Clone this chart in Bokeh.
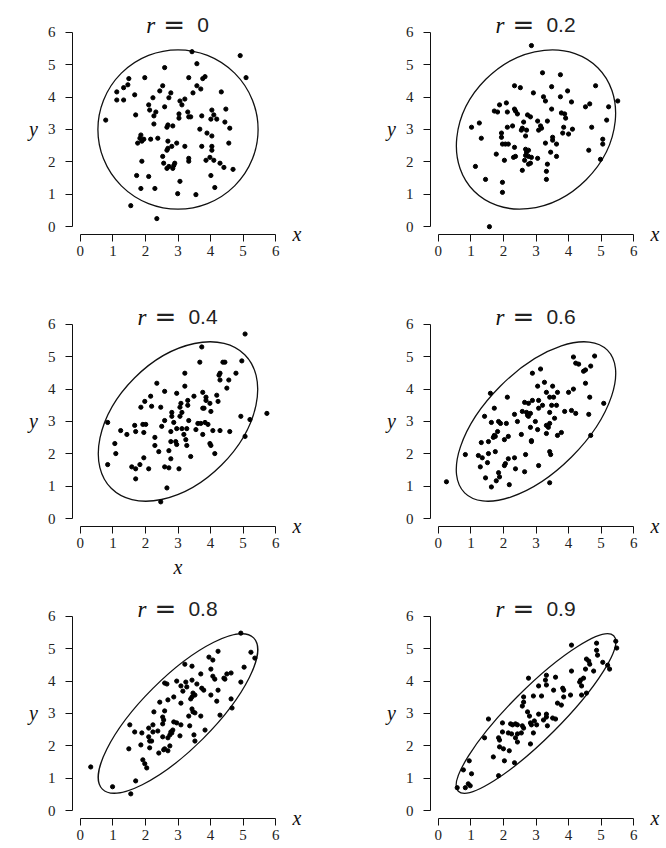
from bokeh.plotting import figure
from bokeh.models import Label, FixedTicker, LinearAxis
from bokeh.layouts import gridplot
from bokeh.embed import file_html
from bokeh.resources import INLINE

# ---------------- data ----------------
r_labels = ["0", "0.2", "0.4", "0.6", "0.8", "0.9"]
tick_values = [0, 1, 2, 3, 4, 5, 6]

# 95% ellipses: centre, full major / minor axis, angle (deg)
ell_cx = [3.0, 3.0, 3.0, 3.0, 3.0, 3.0]
ell_cy = [3.0, 3.0, 3.0, 3.0, 3.0, 3.0]
ell_w = [4.92, 5.37, 5.80, 6.20, 6.57, 6.75]
ell_h = [4.92, 4.38, 3.80, 3.10, 2.19, 1.55]
ell_angle = [0, 45, 45, 45, 45, 45]

x_r0 = [3.43, 4.91, 3.58, 2.59, 5.09, 1.49, 1.98, 3.33, 3.83, 3.76, 1.33, 1.46, 1.12, 2.53, 2.44, 2.78, 3.58, 3.70, 3.46, 4.33,
        1.67, 1.12, 1.33, 2.23, 2.72, 3.21, 3.06, 3.12, 2.10, 2.13, 2.32, 2.59, 4.04, 4.47, 1.70, 2.26, 3.03, 3.30, 3.03, 3.33,
        3.39, 3.73, 4.01, 4.10, 4.19, 4.44, 0.78, 2.26, 2.69, 2.66, 2.84, 3.67, 4.59, 3.89, 1.86, 1.83, 1.95, 1.89, 1.76, 2.16,
        2.38, 4.04, 2.69, 2.96, 2.81, 2.69, 2.66, 3.21, 3.73, 4.04, 4.04, 4.56, 2.53, 3.33, 3.33, 3.98, 3.86, 4.10, 1.89, 2.56,
        2.90, 2.87, 2.72, 2.66, 2.84, 4.29, 4.41, 4.69, 1.73, 2.10, 4.01, 3.06, 1.86, 2.29, 4.13, 2.99, 3.55, 1.55, 2.35]
y_r0 = [5.40, 5.28, 5.03, 4.91, 4.60, 4.57, 4.60, 4.60, 4.63, 4.57, 4.29, 4.38, 4.16, 4.35, 4.19, 4.13, 4.35, 4.25, 4.13, 4.16,
        4.07, 3.91, 3.91, 3.98, 3.98, 3.94, 3.88, 3.76, 3.76, 3.60, 3.54, 3.70, 3.60, 3.63, 3.45, 3.42, 3.48, 3.54, 3.35, 3.39,
        3.39, 3.42, 3.32, 3.45, 3.32, 3.23, 3.29, 3.17, 3.14, 3.07, 3.11, 3.01, 3.04, 2.89, 2.83, 2.73, 2.70, 2.64, 2.58, 2.70,
        2.73, 2.80, 2.64, 2.58, 2.48, 2.42, 2.36, 2.48, 2.48, 2.48, 2.36, 2.58, 2.17, 2.11, 2.02, 2.14, 2.05, 2.05, 2.02, 1.96,
        1.96, 1.89, 1.86, 1.80, 1.80, 1.96, 1.83, 1.77, 1.58, 1.55, 1.58, 1.40, 1.18, 1.18, 1.21, 1.02, 0.99, 0.65, 0.25]

x_r2 = [2.86, 3.20, 3.75, 4.83, 2.34, 2.52, 3.48, 3.97, 2.92, 3.23, 3.29, 3.75, 4.09, 1.88, 2.09, 1.72, 1.82, 2.12, 2.34, 2.37,
        2.43, 2.74, 2.83, 3.48, 3.78, 3.88, 3.91, 4.65, 4.52, 5.23, 5.51, 1.26, 1.02, 2.62, 3.05, 3.35, 5.17, 4.71, 2.12, 2.28,
        2.58, 2.55, 2.71, 3.14, 3.17, 3.08, 3.85, 4.12, 3.82, 4.00, 1.94, 1.94, 2.68, 1.32, 3.51, 3.51, 3.29, 3.63, 1.97, 2.06,
        2.15, 2.34, 5.05, 5.05, 2.68, 2.77, 2.71, 3.45, 4.62, 1.78, 2.31, 2.37, 2.68, 2.77, 2.86, 3.05, 3.63, 2.65, 2.83, 2.77,
        2.03, 4.98, 3.35, 1.14, 2.58, 3.32, 1.45, 3.32, 1.97, 1.97, 1.57]
y_r2 = [5.59, 4.75, 4.69, 4.35, 4.35, 4.29, 4.32, 4.19, 4.13, 4.01, 3.88, 4.01, 3.85, 3.76, 3.82, 3.57, 3.54, 3.54, 3.63, 3.57,
        3.48, 3.45, 3.39, 3.63, 3.51, 3.48, 3.35, 3.79, 3.70, 3.70, 3.88, 3.20, 3.07, 3.23, 3.26, 3.26, 3.29, 3.07, 3.07, 3.11,
        3.04, 2.98, 2.98, 3.11, 3.04, 2.98, 3.07, 3.01, 2.89, 2.86, 2.89, 2.76, 2.80, 2.73, 2.76, 2.67, 2.58, 2.55, 2.55, 2.55,
        2.55, 2.45, 2.70, 2.55, 2.39, 2.36, 2.30, 2.30, 2.36, 2.24, 2.14, 2.17, 2.20, 2.17, 2.14, 2.11, 2.17, 2.05, 1.96, 1.93,
        2.05, 2.08, 1.93, 1.86, 1.74, 1.71, 1.46, 1.46, 1.37, 1.06, 0.00]

x_r4 = [5.06, 3.73, 3.67, 4.38, 4.44, 4.96, 3.21, 4.29, 4.26, 4.78, 4.29, 4.56, 2.35, 3.21, 4.50, 2.59, 2.96, 3.76, 2.16, 1.98,
        3.49, 3.86, 3.86, 3.98, 4.19, 4.23, 3.30, 3.30, 3.09, 3.06, 1.86, 2.19, 2.47, 3.76, 3.80, 4.01, 2.81, 2.81, 3.12, 3.06,
        2.59, 2.87, 3.33, 3.61, 3.70, 3.83, 3.92, 4.93, 5.21, 5.73, 0.84, 1.67, 1.92, 2.01, 2.50, 2.96, 3.12, 3.27, 1.24, 1.43,
        1.70, 1.95, 2.78, 3.55, 4.07, 4.29, 4.59, 3.18, 3.76, 5.06, 2.29, 3.24, 2.78, 2.93, 2.96, 3.27, 3.98, 4.01, 1.06, 2.29,
        2.72, 2.41, 1.09, 4.13, 3.39, 1.95, 2.78, 0.84, 1.58, 1.70, 1.83, 2.10, 2.59, 2.72, 3.03, 1.70, 2.66, 2.47]
y_r4 = [5.70, 5.30, 4.83, 4.83, 4.83, 4.87, 4.49, 4.49, 4.43, 4.49, 4.28, 4.28, 4.18, 4.09, 4.03, 3.93, 3.87, 3.90, 3.78, 3.62,
        3.78, 3.75, 3.65, 3.56, 3.81, 3.62, 3.65, 3.50, 3.56, 3.44, 3.44, 3.47, 3.44, 3.41, 3.41, 3.31, 3.28, 3.16, 3.28, 3.16,
        3.03, 2.97, 3.03, 2.94, 2.94, 2.97, 2.91, 3.16, 3.06, 3.25, 2.97, 2.88, 2.91, 2.91, 2.85, 2.78, 2.78, 2.78, 2.72, 2.60,
        2.69, 2.66, 2.69, 2.75, 2.72, 2.72, 2.69, 2.60, 2.60, 2.54, 2.51, 2.44, 2.38, 2.38, 2.29, 2.26, 2.32, 2.26, 2.32, 2.26,
        2.10, 2.07, 2.01, 2.01, 1.92, 1.88, 1.85, 1.67, 1.60, 1.54, 1.67, 1.54, 1.60, 1.57, 1.54, 1.23, 0.95, 0.52]

x_r6 = [4.80, 4.15, 4.22, 4.31, 4.68, 4.46, 4.52, 2.89, 3.14, 4.52, 3.26, 3.05, 3.51, 3.32, 3.66, 4.00, 4.15, 1.60, 2.12, 3.42,
        3.54, 2.89, 3.08, 4.65, 5.08, 2.65, 2.77, 3.20, 3.48, 3.63, 1.72, 3.08, 2.58, 2.71, 2.83, 2.74, 2.77, 3.88, 4.09, 4.22,
        4.62, 1.42, 2.34, 3.42, 3.57, 2.43, 2.98, 1.85, 1.91, 2.09, 1.63, 2.83, 3.05, 3.32, 3.42, 3.38, 1.82, 1.72, 1.69, 1.75,
        2.15, 2.03, 2.55, 3.32, 3.66, 3.78, 2.86, 2.86, 4.68, 1.32, 1.54, 1.75, 1.54, 0.83, 1.23, 1.35, 2.68, 3.42, 3.45, 2.15,
        2.34, 2.06, 2.03, 1.51, 1.29, 3.08, 2.37, 2.65, 1.85, 1.88, 1.45, 1.78, 2.18, 1.63, 0.25, 3.42]
y_r6 = [5.02, 4.99, 4.80, 4.77, 4.71, 4.55, 4.59, 4.49, 4.62, 4.18, 4.21, 4.09, 4.09, 3.90, 3.90, 3.90, 4.00, 3.87, 3.75, 3.75,
        3.75, 3.65, 3.65, 3.75, 3.56, 3.59, 3.56, 3.50, 3.50, 3.50, 3.41, 3.41, 3.31, 3.28, 3.25, 3.19, 3.16, 3.31, 3.34, 3.25,
        3.22, 3.16, 3.22, 3.28, 3.10, 3.00, 3.00, 3.00, 2.94, 2.94, 2.97, 2.82, 2.75, 2.88, 2.94, 2.82, 2.69, 2.57, 2.51, 2.54,
        2.54, 2.44, 2.60, 2.63, 2.57, 2.66, 2.41, 2.38, 2.57, 2.35, 2.38, 2.07, 2.01, 1.98, 1.95, 1.88, 1.98, 2.07, 1.98, 1.85,
        1.88, 1.70, 1.64, 1.73, 1.60, 1.64, 1.54, 1.45, 1.42, 1.29, 1.26, 1.17, 1.05, 0.98, 1.14, 1.11]

x_r8 = [4.93, 4.23, 5.24, 5.36, 3.95, 4.07, 3.21, 3.43, 5.03, 4.01, 3.70, 4.07, 4.13, 4.50, 4.63, 4.41, 4.44, 4.93, 2.59, 2.66,
        2.96, 3.24, 3.43, 3.58, 3.09, 3.27, 3.15, 3.73, 3.79, 4.23, 3.46, 3.52, 3.39, 3.43, 4.01, 2.87, 2.69, 2.44, 4.19, 4.63,
        3.09, 3.43, 3.46, 3.52, 2.59, 2.26, 3.70, 3.33, 2.53, 2.56, 4.29, 4.66, 1.52, 2.23, 2.53, 3.09, 2.87, 2.96, 3.36, 2.10,
        2.38, 2.23, 1.89, 1.67, 2.78, 2.81, 2.75, 2.84, 3.06, 3.49, 3.83, 2.53, 2.10, 2.13, 2.19, 2.69, 3.52, 1.86, 1.49, 2.13,
        2.59, 2.75, 2.41, 2.69, 2.56, 1.92, 1.98, 2.04, 0.32, 1.70, 0.99, 1.55]
y_r8 = [5.48, 4.92, 4.89, 4.71, 4.74, 4.65, 4.52, 4.46, 4.43, 4.37, 4.22, 4.15, 4.06, 4.22, 4.25, 4.09, 4.06, 3.97, 3.94, 3.91,
        4.00, 3.97, 4.03, 3.91, 3.85, 3.82, 3.69, 3.78, 3.72, 3.72, 3.63, 3.57, 3.45, 3.51, 3.57, 3.51, 3.42, 3.35, 3.38, 3.45,
        3.32, 3.14, 3.05, 3.02, 3.08, 3.05, 2.92, 2.92, 2.89, 2.80, 2.95, 3.17, 2.65, 2.65, 2.68, 2.65, 2.74, 2.71, 2.62, 2.55,
        2.46, 2.43, 2.40, 2.43, 2.43, 2.40, 2.34, 2.49, 2.31, 2.34, 2.49, 2.28, 2.28, 2.15, 2.15, 2.25, 2.15, 2.03, 1.91, 1.94,
        1.91, 2.00, 1.78, 1.85, 1.88, 1.57, 1.45, 1.32, 1.35, 0.92, 0.74, 0.52]

x_r9 = [4.09, 4.86, 5.45, 5.48, 4.86, 4.89, 4.55, 4.62, 4.65, 5.05, 5.20, 5.26, 4.52, 4.77, 4.09, 2.77, 3.32, 3.29, 3.60, 3.32,
        3.08, 4.46, 4.37, 4.34, 4.40, 3.82, 3.85, 3.54, 3.17, 2.92, 2.62, 3.85, 4.06, 4.40, 4.55, 2.62, 2.58, 3.66, 3.78, 2.74,
        3.08, 3.32, 3.32, 3.23, 3.51, 3.60, 2.80, 2.95, 2.83, 2.86, 3.02, 3.35, 1.54, 1.97, 2.22, 2.28, 2.37, 2.43, 2.58, 2.62,
        1.97, 2.15, 2.25, 2.43, 2.55, 2.92, 1.42, 1.85, 1.88, 2.37, 2.43, 2.83, 1.88, 2.00, 2.18, 1.69, 2.03, 2.34, 0.95, 0.77,
        1.02, 1.85, 0.92, 0.98, 0.83, 0.58]
y_r9 = [5.11, 5.17, 5.23, 5.02, 4.95, 4.80, 4.68, 4.62, 4.52, 4.58, 4.49, 4.37, 4.37, 4.31, 4.31, 4.09, 4.18, 4.03, 4.12, 3.88,
        3.85, 4.09, 4.03, 3.97, 3.85, 3.78, 3.72, 3.72, 3.54, 3.54, 3.51, 3.51, 3.57, 3.57, 3.63, 3.35, 3.23, 3.32, 3.26, 3.05,
        2.98, 2.98, 2.89, 2.80, 2.86, 2.83, 2.92, 2.77, 2.71, 2.65, 2.65, 2.62, 2.83, 2.71, 2.68, 2.65, 2.68, 2.65, 2.62, 2.55,
        2.43, 2.40, 2.37, 2.37, 2.40, 2.40, 2.25, 2.25, 2.18, 2.25, 2.12, 2.06, 1.97, 1.91, 1.85, 1.66, 1.54, 1.48, 1.54, 1.26,
        1.14, 1.08, 0.83, 0.77, 0.71, 0.71]

xs_all = [x_r0, x_r2, x_r4, x_r6, x_r8, x_r9]
ys_all = [y_r0, y_r2, y_r4, y_r6, y_r8, y_r9]

# ---------------- styling / layout ----------------
SERIF = "Liberation Serif"
SANS = "Liberation Sans"
EQ_FONT = "DejaVu Sans"
LO, HI = -0.24, 6.24             # plotting region (4% padding round 0..6)
PLOT_W, PLOT_H = 211, 210        # px for the 6.48-unit span
EXT_TOP = 24                     # frame room above the data region for the title
LEFT = 72
ROW_H = [292, 292, 264]
COL_W = [358, 307]

UY = (HI - LO) / PLOT_H
FRAME_H = PLOT_H + EXT_TOP
Y_LO = LO - 1e-4


def make_panel(i):
    row, col = divmod(i, 2)
    w, h = COL_W[col], ROW_H[row]
    p = figure(width=w, height=h,
               x_range=(LO, HI), y_range=(Y_LO, HI + EXT_TOP * UY),
               output_backend="svg", toolbar_location=None, title=None,
               min_border_left=LEFT, min_border_right=w - LEFT - PLOT_W,
               min_border_top=0, min_border_bottom=h - FRAME_H)
    p.outline_line_color = None
    p.grid.visible = False
    p.background_fill_color = "white"
    p.border_fill_color = "white"

    for ax in (p.xaxis[0], p.yaxis[0]):
        ax.ticker = FixedTicker(ticks=tick_values)
        ax.bounds = (0, 6)
        ax.major_tick_in = 0
        ax.major_tick_out = 7
        ax.minor_tick_line_color = None
        ax.axis_line_color = "#111111"
        ax.major_tick_line_color = "#111111"
        ax.major_label_text_font = SERIF
        ax.major_label_text_font_size = "15px"
        ax.major_label_text_color = "#222222"
        ax.axis_label_text_font = SERIF
        ax.axis_label_text_font_style = "italic"
        ax.axis_label_text_font_size = "20px"
        ax.axis_label_text_color = "#111111"
    p.yaxis.major_label_standoff = 10
    p.xaxis.major_label_standoff = 4
    p.yaxis.axis_label = "\ny"
    p.yaxis.axis_label_text_line_height = 1.0
    p.yaxis.axis_label_orientation = "horizontal"
    p.yaxis.axis_label_standoff = 7
    if i == 2:
        p.xaxis.axis_label = "x"
        p.xaxis.axis_label_standoff = 5

    # "x" written at the right end of the x axis (an unlined right axis with one label)
    xr = LinearAxis(ticker=FixedTicker(ticks=[LO]), major_label_overrides={LO: "x"},
                    axis_line_color=None, major_tick_line_color=None, minor_tick_line_color=None,
                    major_tick_out=0, major_tick_in=0,
                    major_label_standoff=9, major_label_text_font=SERIF,
                    major_label_text_font_style="italic", major_label_text_font_size="20px",
                    major_label_text_color="#111111")
    p.add_layout(xr, "right")

    p.ellipse(x=[ell_cx[i]], y=[ell_cy[i]], width=[ell_w[i]], height=[ell_h[i]],
              angle=[ell_angle[i]], angle_units="deg",
              fill_color=None, line_color="#111111", line_width=1.3)
    p.scatter(xs_all[i], ys_all[i], size=4.2, color="black")

    # title "r = ..." : italic r, wide equals sign, sans-serif number
    lab = r_labels[i]
    fs = 21
    num_w = fs * (0.556 * sum(c.isdigit() for c in lab) + 0.278 * lab.count("."))
    start = -(52 + num_w) / 2
    common = dict(x=3, y=HI, text_align="left", text_baseline="alphabetic", y_offset=-1)
    p.add_layout(Label(text="r", text_font=SERIF, text_font_style="italic",
                       text_font_size="23px", x_offset=start, text_color="#111111", **common))
    p.add_layout(Label(text="=", text_font=EQ_FONT, text_font_size="26px",
                       x_offset=start + 17, text_color="#222222", **common))
    p.add_layout(Label(text=lab, text_font=SANS, text_font_size=f"{fs}px",
                       x_offset=start + 51, text_color="#222222", **common))
    return p


panels = [make_panel(i) for i in range(6)]
grid = gridplot([[panels[0], panels[1]], [panels[2], panels[3]], [panels[4], panels[5]]],
                toolbar_location=None)

open("out.html", "w").write(file_html(grid, INLINE))
